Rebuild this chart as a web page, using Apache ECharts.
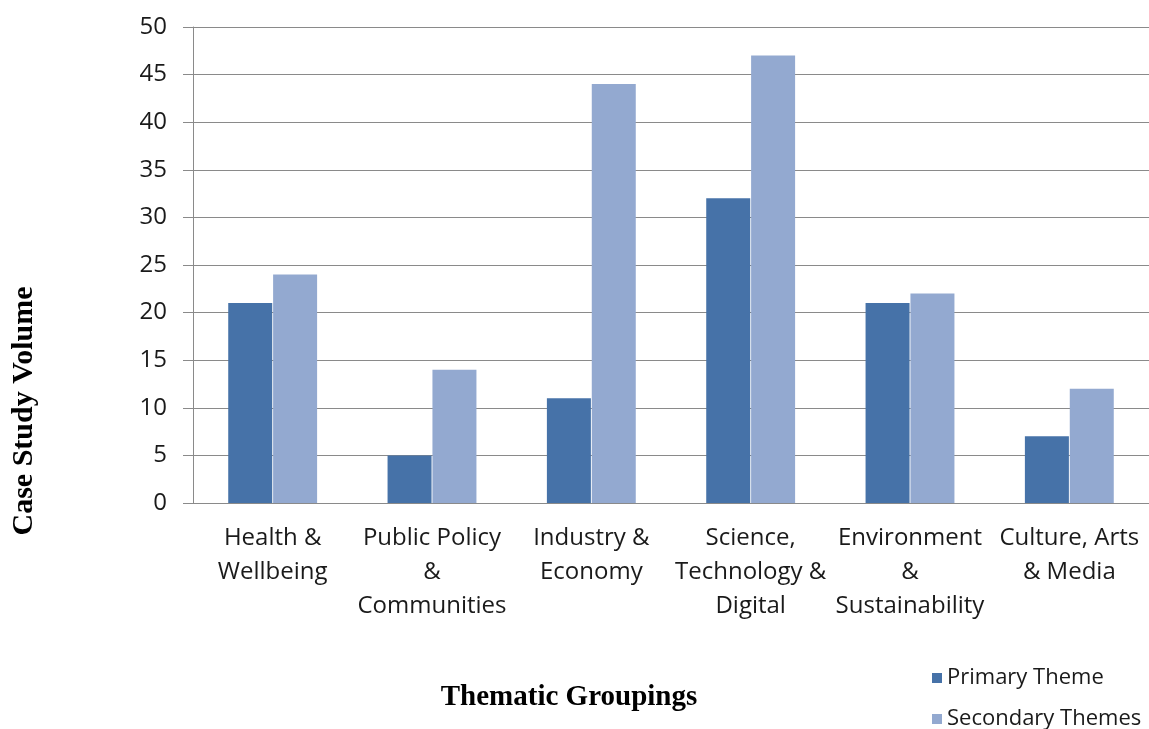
<!DOCTYPE html>
<html>
<head>
<meta charset="utf-8">
<script src="https://cdn.jsdelivr.net/npm/echarts@6/dist/echarts.min.js"></script>
<style>
  html, body { margin: 0; padding: 0; background: #fff; }
  #chart { width: 1149px; height: 729px; }
</style>
</head>
<body>
<div id="chart"></div>
<script>
var categories = [
  "Health &\nWellbeing",
  "Public Policy\n&\nCommunities",
  "Industry &\nEconomy",
  "Science,\nTechnology &\nDigital",
  "Environment\n&\nSustainability",
  "Culture, Arts\n& Media"
];
var primaryTheme = [21, 5, 11, 32, 21, 7];
var secondaryThemes = [24, 14, 44, 47, 22, 12];
var yTicks = [0, 5, 10, 15, 20, 25, 30, 35, 40, 45, 50];

var labelFont = "'Open Sans', sans-serif";
var titleFont = "'Liberation Serif', 'Times New Roman', serif";

var chart = echarts.init(document.getElementById("chart"));
var option = {
  animation: false,
  backgroundColor: "#fff",
  grid: {
    left: 193,
    right: 0,
    top: 27,
    bottom: 226,
    outerBoundsMode: "none",
    containLabel: false
  },
  // axis titles sit off-centre in the original, so they are placed as text
  graphic: [
    {
      type: "text",
      x: 569,
      y: 698,
      style: {
        text: "Thematic Groupings",
        font: "bold 29px " + titleFont,
        fill: "#000",
        align: "center",
        verticalAlign: "middle"
      }
    },
    {
      type: "text",
      x: 24,
      y: 411,
      rotation: Math.PI / 2,
      style: {
        text: "Case Study Volume",
        font: "bold 30px " + titleFont,
        fill: "#000",
        align: "center",
        verticalAlign: "middle"
      }
    }
  ],
  legend: {
    orient: "vertical",
    left: 932,
    top: 667,
    height: 66,
    padding: 0,
    itemWidth: 10,
    itemHeight: 10,
    itemGap: 19,
    icon: "rect",
    textStyle: {
      fontFamily: labelFont,
      fontSize: 22,
      lineHeight: 22,
      color: "#1a1a1a"
    },
    data: ["Primary Theme", "Secondary Themes"]
  },
  xAxis: {
    type: "category",
    data: categories,
    axisLine: { lineStyle: { color: "#8a8a8a", width: 1 } },
    axisTick: { length: 8, lineStyle: { color: "#8a8a8a" } },
    axisLabel: {
      interval: 0,
      margin: 18,
      fontFamily: labelFont,
      fontSize: 24,
      lineHeight: 34,
      color: "#1a1a1a"
    }
  },
  yAxis: {
    type: "value",
    min: yTicks[0],
    max: yTicks[yTicks.length - 1],
    interval: yTicks[1] - yTicks[0],
    axisLine: { show: true, lineStyle: { color: "#8a8a8a", width: 1 } },
    axisTick: { show: true, length: 10, lineStyle: { color: "#8a8a8a" } },
    splitLine: { lineStyle: { color: "#8a8a8a", width: 1 } },
    axisLabel: {
      margin: 26,
      fontFamily: labelFont,
      fontSize: 24,
      color: "#1a1a1a"
    }
  },
  series: [
    {
      name: "Primary Theme",
      type: "bar",
      data: primaryTheme,
      barWidth: 44,
      barGap: "2%",
      itemStyle: { color: "#4672A8" }
    },
    {
      name: "Secondary Themes",
      type: "bar",
      data: secondaryThemes,
      barWidth: 44,
      barGap: "2%",
      itemStyle: { color: "#93A9D0" }
    }
  ]
};
chart.setOption(option);
</script>
</body>
</html>
